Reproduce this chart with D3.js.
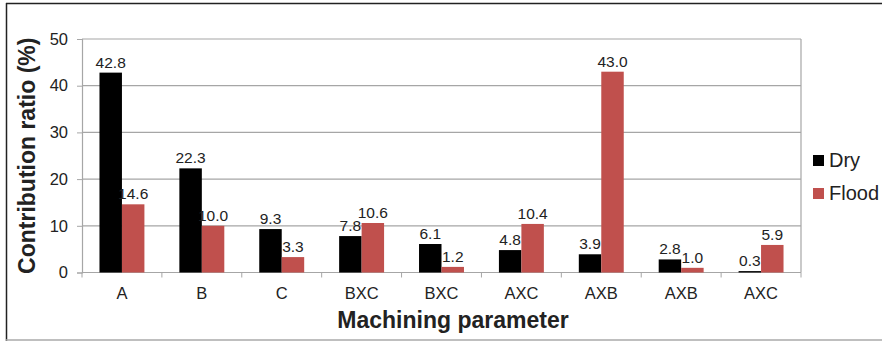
<!DOCTYPE html>
<html><head><meta charset="utf-8">
<script src="https://cdn.jsdelivr.net/npm/d3@7"></script>
<style>body{margin:0;background:#fff}svg{display:block;font-family:"Liberation Sans",Arial,sans-serif}</style>
</head><body><svg id="c" width="882" height="341"></svg>
<script>
const categories = ["A","B","C","BXC","BXC","AXC","AXB","AXB","AXC"];
const dry = [42.8,22.3,9.3,7.8,6.1,4.8,3.9,2.8,0.3];
const flood = [14.6,10.0,3.3,10.6,1.2,10.4,43.0,1.0,5.9];
const seriesNames = ["Dry","Flood"];
const yTicks = [0,10,20,30,40,50];
const colors = ["#000000","#c0504d"];

const svg = d3.select("#c");
// frame
svg.append("line").attr("x1",6).attr("x2",882).attr("y1",3.5).attr("y2",3.5).attr("stroke","#222").attr("stroke-width",1.5);
svg.append("line").attr("x1",6.5).attr("x2",6.5).attr("y1",3).attr("y2",341).attr("stroke","#222").attr("stroke-width",1.5);
svg.append("line").attr("x1",6).attr("x2",882).attr("y1",340).attr("y2",340).attr("stroke","#aaa").attr("stroke-width",1.5);

const L=82, R=801, T=39, B=272.5;
const x = d3.scaleBand().domain(d3.range(categories.length)).range([L,R]).paddingInner(0.4375).paddingOuter(0.21875);
const y = d3.scaleLinear().domain([0,50]).range([B,T]);
const x1 = d3.scaleBand().domain([0,1]).range([0,x.bandwidth()]);

// gridlines
svg.append("g").selectAll("line").data(yTicks.filter(d=>d>0)).join("line")
  .attr("x1",L).attr("x2",R).attr("y1",d=>y(d)).attr("y2",d=>y(d))
  .attr("stroke","#a6a6a6").attr("stroke-width",1.2);
svg.append("line").attr("x1",R).attr("x2",R).attr("y1",T).attr("y2",B).attr("stroke","#a6a6a6").attr("stroke-width",1.2);

// y axis
const ya = svg.append("g").attr("transform",`translate(${L},0)`)
  .call(d3.axisLeft(y).tickValues(yTicks).tickSize(5).tickPadding(9).tickFormat(d3.format("d")));
ya.select(".domain").attr("stroke","#a6a6a6").attr("stroke-width",1.2);
ya.selectAll(".tick line").attr("stroke","#a6a6a6");
ya.selectAll("text").attr("font-size",16.5).attr("fill","#222").attr("font-family","Liberation Sans, Arial, sans-serif");

// x axis
const xa = svg.append("g").attr("transform",`translate(0,${B})`);
xa.append("line").attr("x1",L).attr("x2",R).attr("stroke","#a6a6a6").attr("stroke-width",1.2);
xa.selectAll(".tk").data(d3.range(categories.length+1)).join("line")
  .attr("x1",i=>L+(R-L)*i/categories.length).attr("x2",i=>L+(R-L)*i/categories.length)
  .attr("y1",0).attr("y2",5).attr("stroke","#a6a6a6");
xa.selectAll("text").data(categories).join("text")
  .attr("x",(d,i)=>x(i)+x.bandwidth()/2).attr("y",26)
  .attr("text-anchor","middle").attr("font-size",16.5).attr("fill","#222").text(d=>d);

// bars
const data = categories.map((c,i)=>[dry[i],flood[i]]);
const g = svg.append("g");
data.forEach((vals,i)=>{
  vals.forEach((v,s)=>{
    const bx = x(i)+x1(s);
    g.append("rect").attr("x",bx).attr("y",y(v)).attr("width",x1.bandwidth()).attr("height",B-y(v)).attr("fill",colors[s]);
    g.append("text").attr("x",bx+x1.bandwidth()/2).attr("y",y(v)-5).attr("text-anchor","middle")
      .attr("font-size",15.5).attr("fill","#222").text(v.toFixed(1));
  });
});

// axis titles
svg.append("text").attr("transform",`translate(35,${(T+B)/2}) rotate(-90)`).attr("text-anchor","middle")
  .attr("font-size",23).attr("font-weight","bold").attr("fill","#222").text("Contribution ratio (%)");
svg.append("text").attr("x",(L+R)/2+11.5).attr("y",328).attr("text-anchor","middle")
  .attr("font-size",23).attr("font-weight","bold").attr("fill","#222").text("Machining parameter");

// legend
const lg = svg.append("g");
seriesNames.forEach((n,i)=>{
  lg.append("rect").attr("x",813).attr("y",155+i*33).attr("width",11).attr("height",11).attr("fill",colors[i]);
  lg.append("text").attr("x",829).attr("y",167+i*33).attr("font-size",20).attr("fill","#222").text(n);
});
</script></body></html>
